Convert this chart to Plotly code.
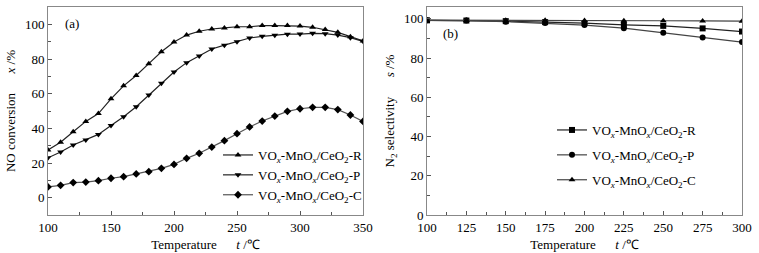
import plotly.graph_objects as go

# ---- data: panel (a) NO conversion ----
temp_a = [100, 110, 120, 130, 140, 150, 160, 170, 180, 190, 200, 210, 220,
          230, 240, 250, 260, 270, 280, 290, 300, 310, 320, 330, 340, 350]
conv_R = [27.5, 32, 38, 44, 48.5, 57, 64.5, 70.5, 77.3, 84.2, 89.8, 93.8, 96,
          97.3, 97.9, 98.6, 98.6, 99.3, 99.3, 99.3, 99, 98.3, 97, 95.4, 92.9, 90.4]
conv_P = [23, 26.3, 30.4, 33.3, 36.5, 41.7, 46.7, 52.5, 59.2, 66, 72.5, 77.9, 81.7,
          85.8, 88, 90, 92.1, 93.1, 93.7, 94.3, 94.4, 94.8, 94.6, 93.8, 92.3, 90.2]
conv_C = [6.2, 7.1, 8.7, 9, 9.8, 11.2, 12.1, 13.7, 15, 16.9, 19.2, 22.7, 25.6,
          29.2, 32.9, 36.9, 40.8, 44.2, 47.1, 49.8, 51.3, 52.1, 52.1, 50.8, 47.7, 44]

# ---- data: panel (b) N2 selectivity ----
temp_b = [100, 125, 150, 175, 200, 225, 250, 275, 300]
sel_R = [99.2, 99.1, 98.8, 98.3, 97.8, 96.9, 96.4, 95.1, 93.5]
sel_P = [99.2, 99.1, 98.5, 97.8, 96.8, 95.2, 92.9, 90.5, 88.1]
sel_C = [99.3, 99.3, 99.3, 99.2, 99.1, 99.0, 99.0, 98.9, 98.8]

names = ["VO<sub><i>x</i></sub>-MnO<sub><i>x</i></sub>/CeO<sub>2</sub>-R",
         "VO<sub><i>x</i></sub>-MnO<sub><i>x</i></sub>/CeO<sub>2</sub>-P",
         "VO<sub><i>x</i></sub>-MnO<sub><i>x</i></sub>/CeO<sub>2</sub>-C"]

FONT = "Liberation Serif"
fig = go.Figure()

line_cols_a = ["#222222", "#222222", "#555555"]
syms_a = ["triangle-up", "triangle-down", "diamond"]
for y, nm, s, c in zip([conv_R, conv_P, conv_C], names, syms_a, line_cols_a):
    fig.add_trace(go.Scatter(x=temp_a, y=y, name=nm, mode="lines+markers",
                             line=dict(color=c, width=1.2),
                             marker=dict(symbol=s, size=6, color="black"),
                             xaxis="x", yaxis="y", legend="legend"))

syms_b = ["square", "circle", "triangle-up"]
line_cols_b = ["#222222", "#444444", "#444444"]
for i, (y, nm, s, c) in enumerate(zip([sel_R, sel_P, sel_C], names, syms_b, line_cols_b)):
    fig.add_trace(go.Scatter(x=temp_b, y=y, name=nm, mode="lines+markers",
                             line=dict(color=c, width=1.2),
                             marker=dict(symbol=s, size=6, color="black"),
                             legendgroup=f"b{i}",
                             xaxis="x2", yaxis="y2", legend="legend2"))

axis_common = dict(showline=True, linecolor="#888888", linewidth=1, mirror=True,
                   ticks="inside", ticklen=4, tickcolor="#555555",
                   showgrid=False, zeroline=False, automargin=False,
                   tickfont=dict(family=FONT, size=13, color="black"))

fig.update_layout(
    width=759, height=253,
    margin=dict(l=0, r=0, t=0, b=0, autoexpand=False),
    paper_bgcolor="white", plot_bgcolor="white",
    font=dict(family=FONT, size=13, color="black"),
    xaxis=dict(domain=[48/759, 363/759], range=[100, 350], dtick=50,
               minor=dict(ticks="inside", dtick=25, ticklen=3, tickcolor="#555555"),
               anchor="y",
               title=dict(text="Temperature      <i>t</i> /℃", standoff=6,
                          font=dict(family=FONT, size=13)),
               **axis_common),
    yaxis=dict(domain=[38/253, 246/253], range=[-10, 110],
               tickvals=[0, 20, 40, 60, 80, 100],
               minor=dict(ticks="inside", dtick=10, ticklen=3, tickcolor="#555555"),
               anchor="x",
               title=dict(text="NO conversion      <i>x</i> /%", standoff=6,
                          font=dict(family=FONT, size=13)),
               **axis_common),
    xaxis2=dict(domain=[427/759, 742/759], range=[100, 300], dtick=25,
                minor=dict(ticks="inside", dtick=12.5, ticklen=3, tickcolor="#555555"),
                anchor="y2",
                title=dict(text="Temperature      <i>t</i> /℃", standoff=6,
                           font=dict(family=FONT, size=13)),
                **axis_common),
    yaxis2=dict(domain=[38/253, 246/253], range=[0, 106],
                tickvals=[0, 20, 40, 60, 80, 100],
                minor=dict(ticks="inside", dtick=10, ticklen=3, tickcolor="#555555"),
                anchor="x2",
                title=dict(text="N<sub>2</sub> selectivity      <i>s</i> /%", standoff=6,
                           font=dict(family=FONT, size=13)),
                **axis_common),
    legend=dict(x=218/759, y=(253-140)/253, xanchor="left", yanchor="top",
                bgcolor="rgba(0,0,0,0)", font=dict(family=FONT, size=13),
                tracegroupgap=0, itemwidth=30),
    legend2=dict(x=552/759, y=(253-115)/253, xanchor="left", yanchor="top",
                 bgcolor="rgba(0,0,0,0)", font=dict(family=FONT, size=13),
                 tracegroupgap=5, itemwidth=30),
    showlegend=True,
    annotations=[
        dict(text="(a)", x=63/759, y=(253-23)/253, xref="paper", yref="paper",
             xanchor="left", yanchor="middle", showarrow=False,
             font=dict(family=FONT, size=13)),
        dict(text="(b)", x=441/759, y=(253-33)/253, xref="paper", yref="paper",
             xanchor="left", yanchor="middle", showarrow=False,
             font=dict(family=FONT, size=13)),
    ],
)

fig.write_html("out.html", config={"displayModeBar": False},
               post_script="document.body.style.margin='0';document.body.style.overflow='hidden';")
